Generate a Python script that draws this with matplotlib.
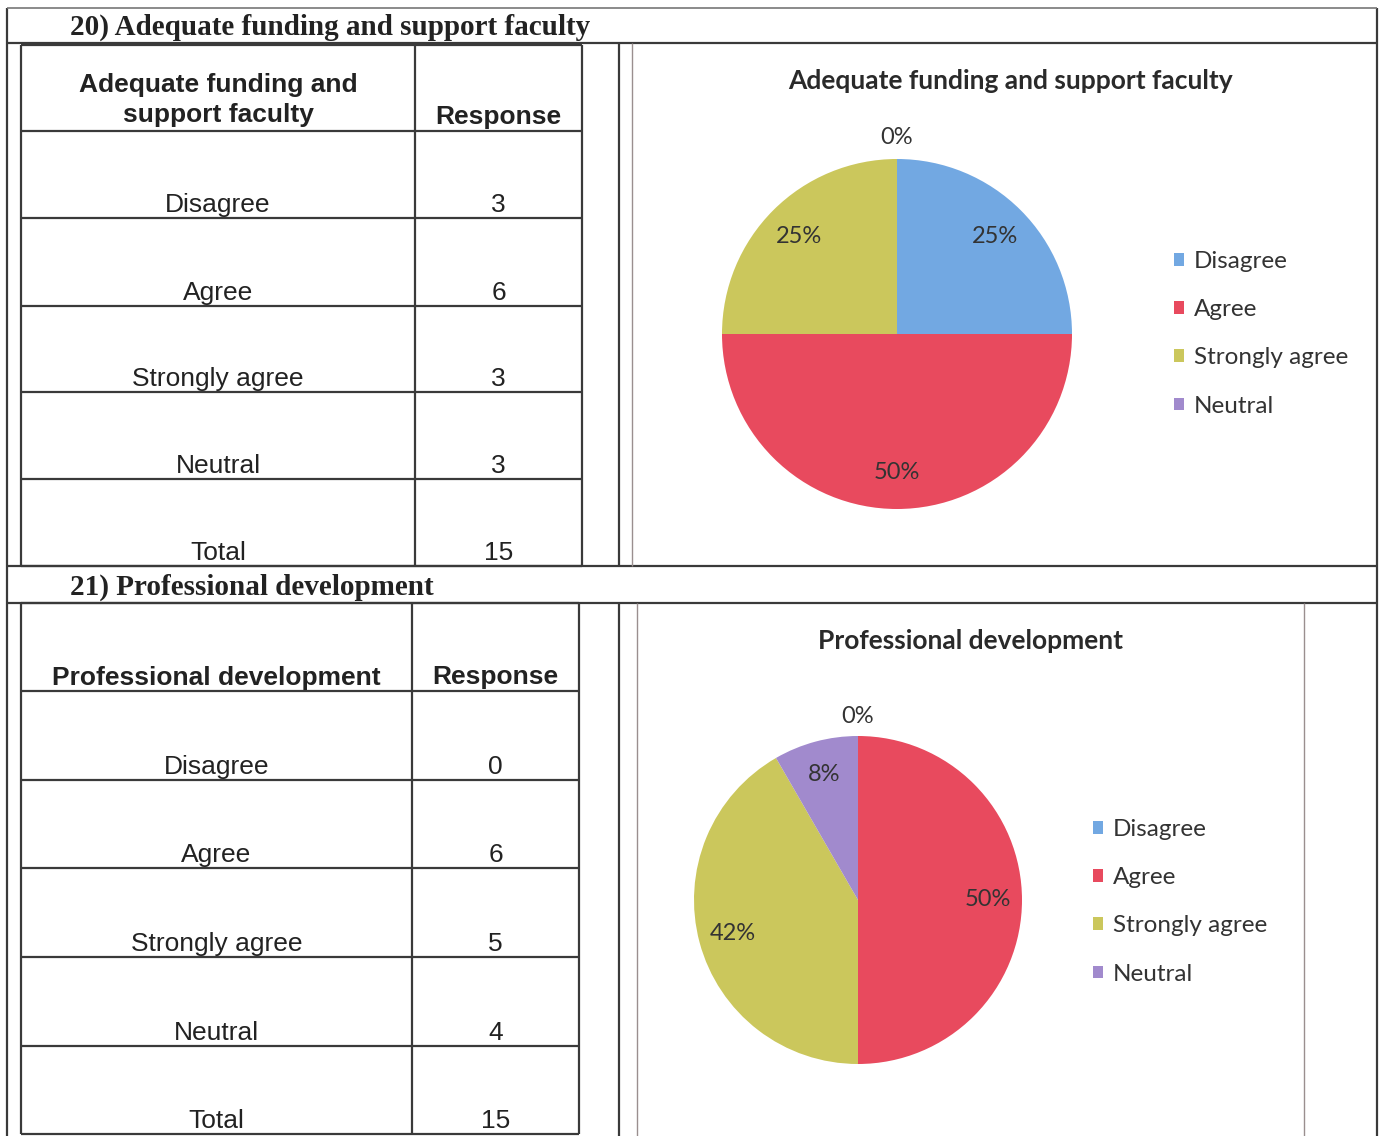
import numpy as np
import matplotlib
matplotlib.use("Agg")
import matplotlib.pyplot as plt

# data
categories = ["Disagree", "Agree", "Strongly agree", "Neutral"]
q20_title = "Adequate funding and support faculty"
q20_table = [3, 6, 3, 3]
q20_total = 15
q20_pie = [3, 6, 3, 0]   # the chart shows 0% for Neutral
q21_title = "Professional development"
q21_table = [0, 6, 5, 4]
q21_total = 15
q21_pie = [0, 6, 5, 1]
pie_colors = ["#72A8E2", "#E84A5E", "#CBC75C", "#A18ACD"]

W, H = 1380, 1136
fig = plt.figure(figsize=(W / 100, H / 100), dpi=100)
bg = fig.add_axes([0, 0, 1, 1])
bg.set_xlim(0, W)
bg.set_ylim(H, 0)
bg.axis("off")

LC = "#3a3a3a"
serif = "Liberation Serif"
sans = "Liberation Sans"
cal = "Lato"
TFS = 19


def hline(y, x0, x1, lw=1.6, c=LC):
    bg.plot([x0, x1], [y, y], color=c, lw=lw, solid_capstyle="butt")


def vline(x, y0, y1, lw=1.6, c=LC):
    bg.plot([x, x], [y0, y1], color=c, lw=lw, solid_capstyle="butt")


def draw_table(lines, xl, xm, xr, header, hy, values, total):
    for y in lines:
        hline(y, xl, xr)
    for x in (xl, xm, xr):
        vline(x, lines[0], lines[-1])
    c1 = (xl + xm) / 2
    c2 = (xm + xr) / 2
    bg.text(c1, hy, header, ha="center", va="center", fontsize=TFS,
            fontweight="bold", family=sans, color="#222", linespacing=1.3)
    bg.text(c2, lines[1] - 14, "Response", ha="center", va="center", fontsize=TFS,
            fontweight="bold", family=sans, color="#222")
    labels = categories + ["Total"]
    vals = values + [total]
    for i, (lab, v) in enumerate(zip(labels, vals)):
        yb = lines[i + 2]
        bg.text(c1, yb - 13, lab, ha="center", va="center", fontsize=TFS,
                family=sans, color="#222")
        bg.text(c2, yb - 13, str(v), ha="center", va="center", fontsize=TFS,
                family=sans, color="#222")


def draw_pie(cx, cy, r, vals, title, tx, ty, leg_xy):
    ax = fig.add_axes([(cx - r) / W, 1 - (cy + r) / H, 2 * r / W, 2 * r / H])
    wedges, _ = ax.pie(vals, colors=pie_colors, startangle=90, counterclock=False,
                       radius=1)
    ax.set_xlim(-1, 1)
    ax.set_ylim(-1, 1)
    ax.axis("off")
    tot = sum(vals)
    for w, v in zip(wedges, vals):
        mid = np.deg2rad((w.theta1 + w.theta2) / 2)
        d = 0.79 if v > 0 else 1.12
        ax.text(d * np.cos(mid), d * np.sin(mid), f"{round(100 * v / tot)}%",
                ha="center", va="center", fontsize=17, family=cal, color="#333",
                clip_on=False)
    bg.text(tx, ty, title, ha="center", va="center", fontsize=19,
            fontweight="bold", family=cal, color="#2a2a2a")
    ax.legend(wedges, categories, loc="upper left", bbox_to_anchor=leg_xy,
              bbox_transform=bg.transData, frameon=False, borderpad=0,
              borderaxespad=0, handlelength=0.42, handleheight=0.42,
              handletextpad=0.4, labelspacing=1.12,
              prop={"family": cal, "size": 17.5}, labelcolor="#333")


# outer frame and section separators
vline(7, 8, H)
vline(1377, 8, H)
hline(8, 7, 1377, lw=1.2, c="#777")
hline(43, 7, 1377)
hline(566, 7, 1377)
hline(603, 7, 1377)

# section 20
bg.text(70, 27, "20) Adequate funding and support faculty", ha="left", va="center",
        fontsize=21, fontweight="bold", family=serif, color="#222")
draw_table([45, 131, 218, 306, 392, 479, 566], 21, 415, 582,
           "Adequate funding and\nsupport faculty", 100, q20_table, q20_total)
vline(619, 43, 566)
vline(632, 43, 566, lw=1.0, c="#9a8f8f")
draw_pie(897, 334, 175, q20_pie, q20_title, 1010, 81, (1174, 251))

# section 21
bg.text(70, 587, "21) Professional development", ha="left", va="center",
        fontsize=21, fontweight="bold", family=serif, color="#222")
draw_table([603, 691, 780, 868, 957, 1046, 1134], 21, 412, 579,
           "Professional development", 678, q21_table, q21_total)
vline(619, 603, H)
vline(637, 603, H, lw=1.0, c="#9a8f8f")
vline(1304, 603, H, lw=1.0, c="#9a8f8f")
draw_pie(858, 900, 164, q21_pie, q21_title, 970, 641, (1093, 819))

fig.savefig("out.png", dpi=100)
